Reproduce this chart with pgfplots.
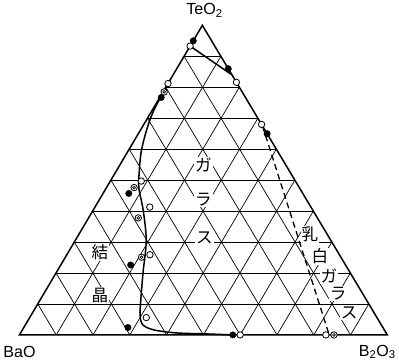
\documentclass[border=0pt]{standalone}
\usepackage{pgfplots}
\pgfplotsset{compat=1.18}
\usepackage{pgfplotstable}
\usepackage{fontspec}
\setmainfont{Liberation Sans}
\newfontfamily\jp{Noto Sans CJK JP}

% Compositions in mol%: B = B2O3, T = TeO2 (BaO = 100 - B - T)
% Page placement: BaO corner (22,0), B2O3 corner (388,0), TeO2 corner (204,308)
\newcommand\tc[2]{(axis cs:{22+3.66*(#1)+1.82*(#2)},{3.08*(#2)})}
\pgfplotsset{/pgfplots/table/tern/.style={
  x expr={22+3.66*\thisrow{B}+1.82*\thisrow{T}},
  y expr={3.08*\thisrow{T}}}}
\tikzset{
  gridline/.style={black, line width=0.7pt},
  jplab/.style={font=\jp\fontsize{16.5}{16.5}\selectfont, fill=white, inner sep=1pt},
}

% crystallised samples
\pgfplotstableread{
B     T
0     95.0
14.0  86.0
0.4   76.7
7.0   45.7
19.0  22.6
28.3  2.4
58.0  0
35.0  65.0
}\crystal
% clear glass samples
\pgfplotstableread{
B     T
0     93.3
18.4  81.6
0     81.2
8.4   49.7
14.9  41.3
22.6  25.9
31.7  5.6
60.0  0
32.0  68.0
83.3  0
}\glass
% partly crystallised samples
\pgfplotstableread{
B     T
0.3   78.5
7.5   47.6
13.5  37.8
20.7  25.1
85.5  0
}\partial
% glass-forming boundary
\pgfplotstableread{
B     T
0     81.0
0.5   72.1
1.8   65.6
3.7   59.1
6.4   52.6
8.9   47.4
13.6  40.3
19.3  30.5
23.6  20.1
27.2  11.7
29.7  6.2
32.0  3.2
35.8  1.6
42.3  0.65
51.2  0.3
58.0  0
}\boundary
% upper boundary near TeO2
\pgfplotstableread{
B     T
0     93.3
16.0  84.0
}\topline
% opal glass boundary
\pgfplotstableread{
B     T
32.5  67.5
84.2  0
}\opal

\begin{document}
\begin{tikzpicture}
\begin{axis}[
  width=399pt, height=366pt, scale only axis,
  xmin=0, xmax=399, ymin=-27, ymax=339,
  hide axis, clip=false,
]
% 10 mol% grid
\pgfplotsinvokeforeach{1,...,9}{
  \draw[gridline] \tc{0}{#1*10} -- \tc{100-#1*10}{#1*10};
  \draw[gridline] \tc{#1*10}{0} -- \tc{#1*10}{100-#1*10};
  \draw[gridline] \tc{100-#1*10}{0} -- \tc{0}{100-#1*10};
}
% region names
\node[jplab] at (axis cs:205,169) {ガ};
\node[jplab] at (axis cs:205,135) {ラ};
\node[jplab] at (axis cs:206,97) {ス};
\node[jplab] at (axis cs:102,82) {結};
\node[jplab] at (axis cs:102,39) {晶};
\node[jplab] at (axis cs:311,100) {乳};
\node[jplab] at (axis cs:321,78) {白};
\node[jplab] at (axis cs:330,59) {ガ};
\node[jplab] at (axis cs:339,41) {ラ};
\node[jplab] at (axis cs:350,22) {ス};
% outline
\draw[black, line width=1.5pt, line join=miter] \tc{0}{0} -- \tc{100}{0} -- \tc{0}{100} -- cycle;
% boundaries
\addplot[black, line width=1.5pt, smooth, tension=0.5, no marks] table[tern] {\boundary};
\addplot[black, line width=1.5pt, no marks] table[tern] {\topline};
\addplot[black, line width=1.3pt, dash pattern=on 6pt off 4pt, no marks] table[tern] {\opal};
% samples
\addplot[only marks, mark=*, mark size=3.2pt, black] table[tern] {\crystal};
\addplot[only marks, mark=*, mark size=3.2pt, mark options={draw=black, fill=white, line width=0.8pt}] table[tern] {\glass};
\addplot[only marks, mark=*, mark size=3.2pt, mark options={draw=black, fill=white, line width=0.8pt}] table[tern] {\partial};
\addplot[only marks, mark=o, mark size=1.4pt, mark options={draw=black, line width=0.7pt}] table[tern] {\partial};
% corner names
\node[font=\fontsize{16}{16}\selectfont] at (axis cs:206,323) {TeO\textsubscript{2}};
\node[font=\fontsize{16}{16}\selectfont] at (axis cs:22,-17) {BaO};
\node[font=\fontsize{16}{16}\selectfont] at (axis cs:378,-17) {B\textsubscript{2}O\textsubscript{3}};
\end{axis}
\end{tikzpicture}
\end{document}
